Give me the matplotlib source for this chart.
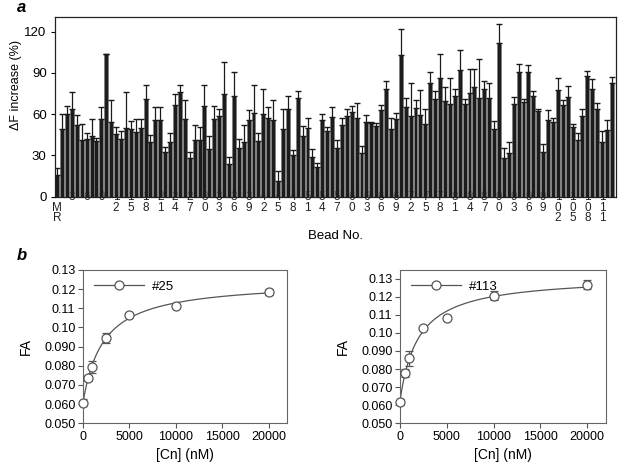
import numpy as np
import matplotlib
matplotlib.use("Agg")
import matplotlib.pyplot as plt
from matplotlib.lines import Line2D
from matplotlib.transforms import blended_transform_factory

plt.rcParams['font.family'] = ['Liberation Sans', 'DejaVu Sans']

# ---------------- Panel a data ----------------
bead_values = [16, 49.5, 60, 64, 52.5, 41, 42, 44.5, 40.5, 56.5,
               103.5, 54, 45.5, 42, 50, 49, 47, 50, 71, 40,
               56, 55.5, 32.5, 39.5, 67, 76, 56.5, 28, 41, 41,
               66, 35, 56.5, 59, 74.5, 23.5, 73.5, 35.5, 39.5, 55.5,
               61, 40.5, 60.5, 57, 55.5, 11.5, 49, 64, 30.5, 72,
               44, 50, 29, 21.5, 55.5, 47.5, 58, 35.5, 52, 58.5,
               61.5, 57, 31.5, 54.5, 53.5, 51.5, 63, 78.5, 49, 56.5,
               103, 65, 58.5, 64.5, 59.5, 53, 82.5, 71, 86.5, 69.5,
               67.5, 73.5, 92.5, 67.5, 75.5, 80, 71.5, 78, 71.5, 49,
               111.5, 28.5, 31.5, 67.5, 90.5, 69, 91, 73, 62, 32.5,
               56, 54.5, 77.5, 66.5, 72.5, 51, 41.5, 59, 88, 78.5,
               64, 40, 48.5, 83]
bead_errors = [5, 11, 6, 12, 7, 12, 4, 12, 2.5, 8.5,
               0.5, 16, 5.5, 5.5, 26, 6, 9.5, 6.5, 10.5, 5,
               9.5, 9.5, 3.5, 6.5, 7.5, 5, 13.5, 4.5, 11.5, 10,
               15, 9, 9.5, 5, 23.5, 5.5, 17, 6.5, 13, 7.5,
               20.5, 6, 17.5, 8, 14.5, 7.5, 15, 9, 3.5, 5,
               7.5, 7, 6, 3, 5, 3, 7, 6, 5, 5.5,
               4.5, 11.5, 5.5, 5, 1, 2, 4, 5.5, 8, 4.5,
               19, 7, 24.5, 5.5, 18, 10.5, 8.5, 6, 17.5, 10.5,
               19, 5, 14.5, 3.5, 17.5, 13, 28.5, 6.5, 11.5, 6,
               14.5, 7, 8.5, 5, 6, 2, 4.5, 4, 2, 5.5,
               7, 2.5, 8.5, 3.5, 8, 2, 4.5, 5, 3.5, 7,
               4.5, 8, 7, 4]
tick_positions = [0, 3, 6, 9, 12, 15, 18, 21, 24, 27, 30, 33, 36, 39, 42, 45,
                  48, 51, 54, 57, 60, 63, 66, 69, 72, 75, 78, 81, 84, 87, 90,
                  93, 96, 99, 102, 105, 108, 111]
tick_labels = ["MR", "3", "6", "9", "12", "15", "18", "21", "24", "27", "30",
               "33", "36", "39", "42", "45", "48", "51", "54", "57", "60", "63",
               "66", "69", "72", "75", "78", "81", "84", "87", "90", "93", "96",
               "99", "102", "105", "108", "111"]
a_yticks = [0, 30, 60, 90, 120]

# ---------------- Panel b data ----------------
conc = [0, 500, 1000, 2500, 5000, 10000, 20000]
fa_25 = [0.0608, 0.0734, 0.0795, 0.0944, 0.1066, 0.1113, 0.1185]
fa_25_err = [0.0020, 0.0012, 0.0030, 0.0025, 0.0010, 0.0010, 0.0018]
fa_113 = [0.0617, 0.0780, 0.0859, 0.1028, 0.1081, 0.1206, 0.1267]
fa_113_err = [0.0015, 0.0022, 0.0040, 0.0008, 0.0012, 0.0025, 0.0025]
b_yticks = [0.050, 0.060, 0.070, 0.080, 0.090, 0.10, 0.11, 0.12, 0.13]
b_yticklabels = ["0.050", "0.060", "0.070", "0.080", "0.090", "0.10", "0.11", "0.12", "0.13"]
b_xticks = [0, 5000, 10000, 15000, 20000]

fig = plt.figure(figsize=(6.29, 4.72), dpi=100)

# ---------------- Panel a ----------------
axa = fig.add_axes([0.0874, 0.5833, 0.892, 0.380])
x = np.arange(len(bead_values))
axa.bar(x, bead_values, width=0.8, color='#1c1c1c', edgecolor='#7a7a7a',
        linewidth=0.4, zorder=1)
axa.errorbar(x, bead_values, yerr=[np.zeros(len(bead_errors)), bead_errors],
             fmt='none', ecolor='#1a1a1a', elinewidth=0.9, capsize=2.3,
             capthick=1.0, zorder=2)
axa.set_xlim(-0.45, 113.85)
axa.set_ylim(0, 130.5)
axa.set_yticks(a_yticks)
axa.set_xticks([])
axa.tick_params(axis='y', direction='out', length=3, labelsize=9.5, pad=3)
for s in axa.spines.values():
    s.set_linewidth(0.9)
    s.set_color('#222222')

trans = blended_transform_factory(axa.transData, axa.transAxes)
for pos, lab in zip(tick_positions, tick_labels):
    rows = list(lab) if lab.isdigit() else [''] + list(lab)
    axa.text(pos, 0.032, "\n".join(rows), transform=trans, ha='center', va='top',
             fontsize=8.5, color='#222222', linespacing=0.86, clip_on=False,
             zorder=0.5)

axa.set_ylabel("ΔF increase (%)", fontsize=9)
axa.yaxis.set_label_coords(-0.058, 0.62)
fig.text(335 / 629, 1 - 236 / 472, "Bead No.", ha='center', va='center', fontsize=9.5)
fig.text(17 / 629, 1 - 8 / 472, "a", fontsize=12, fontweight='bold', style='italic',
         ha='left', va='center')
fig.text(17 / 629, 1 - 256 / 472, "b", fontsize=12, fontweight='bold', style='italic',
         ha='left', va='center')


def hyperbola_fit(xv, yv):
    xv = np.asarray(xv, float)
    yv = np.asarray(yv, float)
    best = None
    for kd in np.linspace(100, 10000, 991):
        f = xv / (kd + xv)
        A = np.column_stack([np.ones_like(xv), f])
        coef, *_ = np.linalg.lstsq(A, yv, rcond=None)
        r = np.sum((A @ coef - yv) ** 2)
        if best is None or r < best[0]:
            best = (r, kd, coef)
    _, kd, coef = best
    return lambda t: coef[0] + coef[1] * t / (kd + t)


def panel_b(rect, y, yerr, label, ylim, ylabel_x):
    ax = fig.add_axes(rect)
    fit = hyperbola_fit(conc, y)
    xs = np.linspace(0, max(conc), 400)
    ax.plot(xs, fit(xs), color='#555555', lw=0.9, zorder=2)
    ax.errorbar(conc, y, yerr=yerr, fmt='none', ecolor='#555555', elinewidth=0.9,
                capsize=3, capthick=0.9, zorder=3)
    ax.plot(conc, y, 'o', ms=6.5, mfc='white', mec='#555555', mew=0.9,
            zorder=4, clip_on=False)
    ax.set_xlim(0, 22000)
    ax.set_ylim(*ylim)
    ax.set_xticks(b_xticks)
    ax.set_xticklabels([str(v) for v in b_xticks])
    ax.set_yticks(b_yticks)
    ax.set_yticklabels(b_yticklabels)
    ax.tick_params(direction='out', length=3.5, labelsize=9, width=0.8,
                   color='#555555', pad=2)
    for s in ax.spines.values():
        s.set_color('#666666')
        s.set_linewidth(0.8)
    ax.set_ylabel("FA", fontsize=10)
    ax.yaxis.set_label_coords(ylabel_x, 0.5)
    ax.set_xlabel("[Cn] (nM)", fontsize=10, labelpad=4)
    h = Line2D([], [], color='#555555', lw=0.9, marker='o', ms=6.5,
               mfc='white', mec='#555555', mew=0.9)
    ax.legend([h], [label], loc='upper left', frameon=False, fontsize=9.5,
              handlelength=3.8, borderaxespad=0.3, handletextpad=0.6,
              borderpad=0.5)
    return ax


panel_b([0.132, 0.1032, 0.3248, 0.3248], fa_25, fa_25_err, "#25", (0.05, 0.13), -0.245)
panel_b([0.636, 0.1032, 0.327, 0.3248], fa_113, fa_113_err, "#113", (0.05, 0.1348), -0.245)

fig.savefig("out.png", dpi=100)
